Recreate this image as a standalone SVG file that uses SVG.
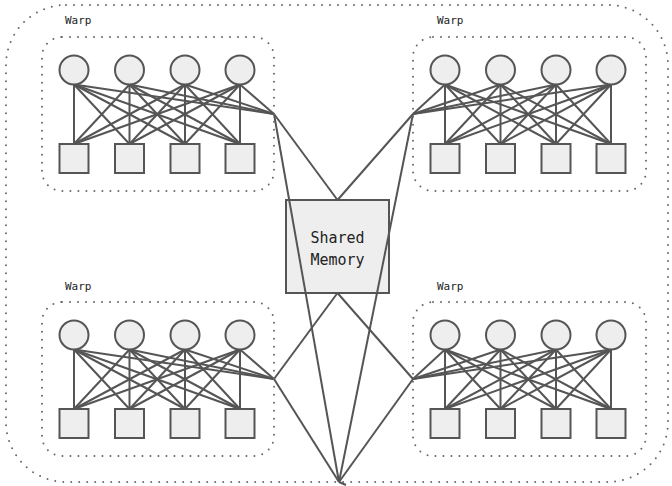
<svg xmlns="http://www.w3.org/2000/svg" xmlns:xlink="http://www.w3.org/1999/xlink" width="672" height="486" viewBox="0 0 672 486">
  <style>
    .cluster { fill: none; stroke: #6a6a6a; stroke-width: 2; stroke-dasharray: 0 8; stroke-linecap: round; }
    .thread { fill: #eeeeee; stroke: #555; stroke-width: 2; }
    .edge { stroke: #555; stroke-width: 2; fill: none; }
    .label { font-family: "DejaVu Sans Mono", "Liberation Mono", monospace; font-size: 11px; fill: #222; }
    .mem { font-family: "DejaVu Sans Mono", "Liberation Mono", monospace; font-size: 15px; fill: #222; text-anchor: middle; }
  </style>
  <defs>
    <!-- every lane of a warp linked to every register slot -->
    <g id="mesh" class="edge">
      <line x1="0" y1="14.5" x2="0" y2="74"/>
      <line x1="0" y1="14.5" x2="55.5" y2="74"/>
      <line x1="0" y1="14.5" x2="111" y2="74"/>
      <line x1="0" y1="14.5" x2="166" y2="74"/>
      <line x1="55.5" y1="14.5" x2="0" y2="74"/>
      <line x1="55.5" y1="14.5" x2="55.5" y2="74"/>
      <line x1="55.5" y1="14.5" x2="111" y2="74"/>
      <line x1="55.5" y1="14.5" x2="166" y2="74"/>
      <line x1="111" y1="14.5" x2="0" y2="74"/>
      <line x1="111" y1="14.5" x2="55.5" y2="74"/>
      <line x1="111" y1="14.5" x2="111" y2="74"/>
      <line x1="111" y1="14.5" x2="166" y2="74"/>
      <line x1="166" y1="14.5" x2="0" y2="74"/>
      <line x1="166" y1="14.5" x2="55.5" y2="74"/>
      <line x1="166" y1="14.5" x2="111" y2="74"/>
      <line x1="166" y1="14.5" x2="166" y2="74"/>
    </g>
    <!-- one warp: four lanes over four slots -->
    <g id="lanes">
      <circle class="thread" cx="0" cy="0" r="14.5"/>
      <circle class="thread" cx="55.5" cy="0" r="14.5"/>
      <circle class="thread" cx="111" cy="0" r="14.5"/>
      <circle class="thread" cx="166" cy="0" r="14.5"/>
      <rect class="thread" x="-14.5" y="74" width="29" height="29"/>
      <rect class="thread" x="41" y="74" width="29" height="29"/>
      <rect class="thread" x="96.5" y="74" width="29" height="29"/>
      <rect class="thread" x="151.5" y="74" width="29" height="29"/>
    </g>
  </defs>

  <rect x="6" y="5" width="662" height="477" rx="60" ry="60" class="cluster"/>

  <g id="shared-memory">
    <rect x="286" y="200" width="103" height="93" class="thread"/>
    <text x="337.5" y="243" class="mem">Shared</text>
    <text x="337.5" y="265" class="mem">Memory</text>
  </g>

  <g id="connectors">
    <use xlink:href="#mesh" transform="translate(74,70)"/>
    <use xlink:href="#mesh" transform="translate(445,70)"/>
    <use xlink:href="#mesh" transform="translate(74,335)"/>
    <use xlink:href="#mesh" transform="translate(445,335)"/>
    <g class="edge">
      <!-- lanes to warp hubs -->
      <line x1="74" y1="84.5" x2="274" y2="114"/>
      <line x1="129.5" y1="84.5" x2="274" y2="114"/>
      <line x1="185" y1="84.5" x2="274" y2="114"/>
      <line x1="240" y1="84.5" x2="274" y2="114"/>
      <line x1="445" y1="84.5" x2="413" y2="114"/>
      <line x1="500.5" y1="84.5" x2="413" y2="114"/>
      <line x1="556" y1="84.5" x2="413" y2="114"/>
      <line x1="611" y1="84.5" x2="413" y2="114"/>
      <line x1="74" y1="349.5" x2="274" y2="379"/>
      <line x1="129.5" y1="349.5" x2="274" y2="379"/>
      <line x1="185" y1="349.5" x2="274" y2="379"/>
      <line x1="240" y1="349.5" x2="274" y2="379"/>
      <line x1="445" y1="349.5" x2="413" y2="379"/>
      <line x1="500.5" y1="349.5" x2="413" y2="379"/>
      <line x1="556" y1="349.5" x2="413" y2="379"/>
      <line x1="611" y1="349.5" x2="413" y2="379"/>
      <!-- hubs to shared memory -->
      <line x1="274" y1="114" x2="337.5" y2="200"/>
      <line x1="413" y1="114" x2="337.5" y2="200"/>
      <line x1="337.5" y1="293" x2="274" y2="379"/>
      <line x1="337.5" y1="293" x2="413" y2="379"/>
      <!-- hubs to the block exit -->
      <line x1="274" y1="114" x2="339" y2="482"/>
      <line x1="413" y1="114" x2="339" y2="482"/>
      <line x1="274" y1="379" x2="339" y2="482"/>
      <line x1="413" y1="379" x2="339" y2="482"/>
      <line x1="339" y1="482" x2="346" y2="485"/>
    </g>
  </g>

  <g id="warp-top-left">
    <rect x="42" y="37" width="232" height="154" rx="20" ry="20" class="cluster"/>
    <text x="65" y="24" class="label">Warp</text>
    <use xlink:href="#lanes" transform="translate(74,70)"/>
  </g>

  <g id="warp-top-right">
    <rect x="413" y="37" width="233" height="154" rx="20" ry="20" class="cluster"/>
    <text x="437" y="24" class="label">Warp</text>
    <use xlink:href="#lanes" transform="translate(445,70)"/>
  </g>

  <g id="warp-bottom-left">
    <rect x="42" y="302" width="232" height="154" rx="20" ry="20" class="cluster"/>
    <text x="65" y="290" class="label">Warp</text>
    <use xlink:href="#lanes" transform="translate(74,335)"/>
  </g>

  <g id="warp-bottom-right">
    <rect x="413" y="302" width="233" height="154" rx="20" ry="20" class="cluster"/>
    <text x="437" y="290" class="label">Warp</text>
    <use xlink:href="#lanes" transform="translate(445,335)"/>
  </g>
</svg>
